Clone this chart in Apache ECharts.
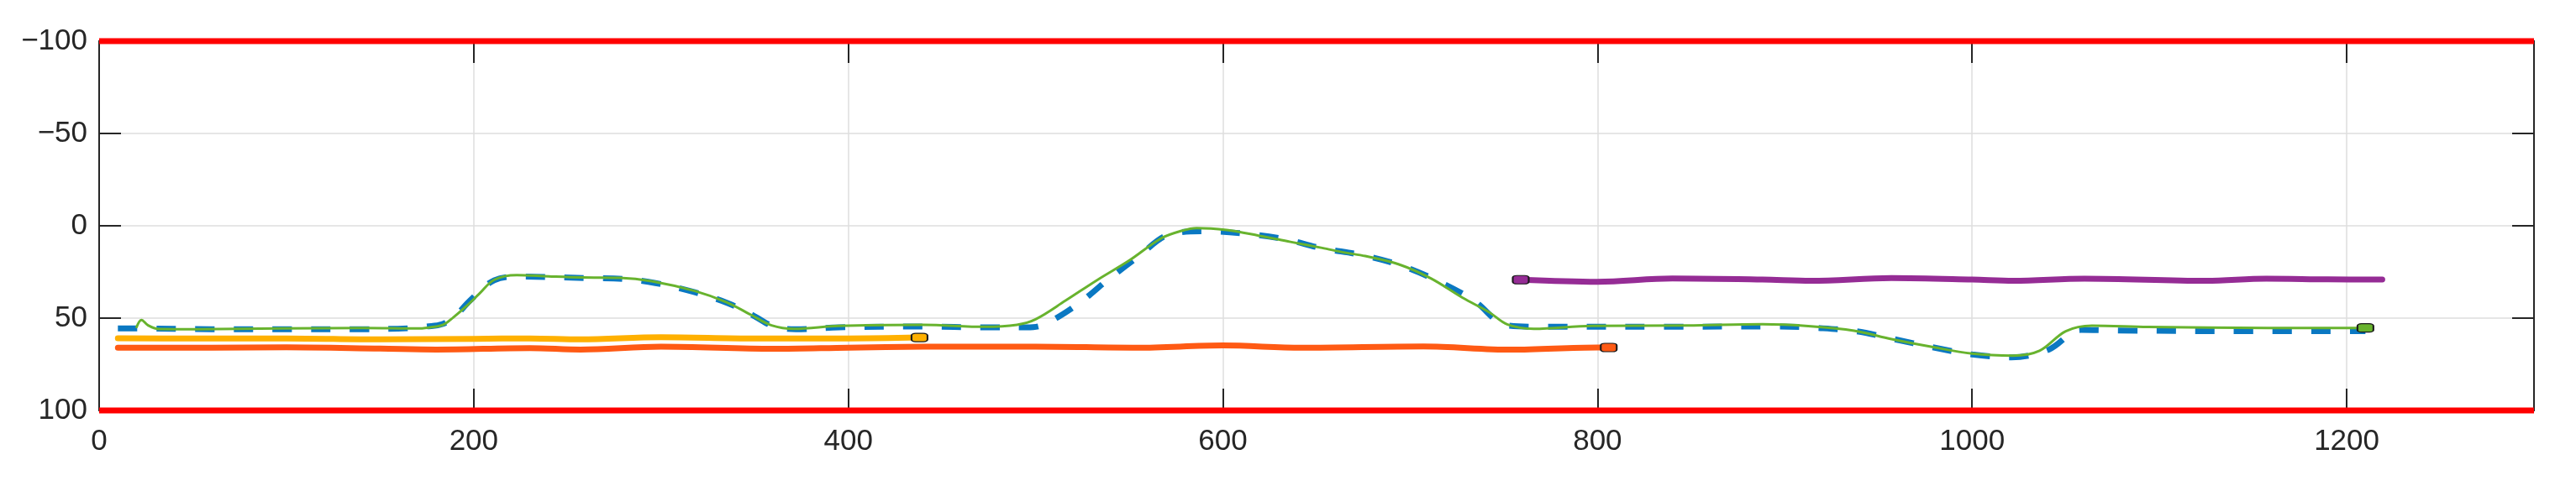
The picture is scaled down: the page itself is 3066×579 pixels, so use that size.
<!DOCTYPE html>
<html>
<head>
<meta charset="utf-8">
<script src="https://cdn.jsdelivr.net/npm/echarts@6/dist/echarts.min.js"></script>
<style>
  html, body { margin: 0; padding: 0; background: #fff; }
  #chart { width: 3066px; height: 579px; }
</style>
</head>
<body>
<div id="chart"></div>
<script>
// values (y axis is drawn reversed: -100 on top)
var greenX = [20, 22.6, 26, 32, 52, 97, 141, 171, 180, 184, 189, 196, 203, 211, 223, 240, 258, 278, 295, 318, 335, 348, 359, 371, 395, 440, 473, 490, 500, 516, 533, 550, 567, 578, 586, 602, 619, 636, 653, 665, 676, 694, 711, 728, 742, 752, 766, 797, 848, 888, 914, 937, 957, 978, 1000, 1022, 1036, 1050, 1064, 1094, 1158, 1210];
var greenY = [54.8, 51, 53.8, 55.9, 56, 55.6, 55.3, 55.6, 54.5, 53.5, 49.7, 43.6, 36.8, 29.2, 26.7, 27.4, 28, 28.2, 30, 35.3, 41.4, 48.2, 53.9, 55.8, 54.2, 53.6, 54.7, 53.6, 50.6, 40.5, 29.3, 18.8, 6.8, 2.7, 1.2, 2.3, 5.3, 8.7, 12, 14.5, 16.4, 20.9, 28.5, 39, 46.7, 53.5, 55.8, 54.2, 54, 53.3, 54.4, 56.8, 61.4, 65.5, 69.2, 70.3, 67.7, 57.1, 54.1, 54.8, 55.3, 55.3];

var blueX = [10, 20, 60, 100, 140, 165, 175, 183, 190, 198, 211, 225, 260, 280, 297, 318, 336, 350, 360, 372, 395, 440, 473, 495, 504, 522, 538, 554, 572, 590, 611, 633, 652, 675, 695, 716, 734, 752, 772, 835, 897, 917, 938, 958, 979, 1000, 1021, 1041, 1058, 1078, 1150, 1210];
var blueY = [55.6, 55.6, 56, 56, 56, 55.5, 54.5, 53.3, 49, 40.5, 29.5, 27.5, 28.3, 28.8, 31, 36, 42, 49, 54.5, 56, 55, 54.5, 55, 55, 53.6, 42.8, 29.7, 17.3, 4.5, 3, 4.2, 7.2, 12, 16, 21.5, 30.5, 40.5, 54, 54.7, 54.7, 54.5, 55.3, 57.1, 61.3, 65.8, 69.7, 71.2, 67, 56.4, 56.7, 57.1, 57];

var yellowX = [10, 50, 100, 150, 200, 230, 257, 300, 350, 400, 438];
var yellowY = [60.9, 61, 61, 61.5, 61.2, 61, 61.5, 60.3, 61, 61, 60.5];

var orangeX = [10, 60, 100, 150, 180, 230, 257, 300, 360, 400, 440, 500, 554, 600, 642, 707, 754, 800, 806];
var orangeY = [66, 66, 65.8, 66.5, 67, 66.2, 67, 65.5, 66.6, 66, 65.5, 65.4, 66, 64.8, 66, 65.3, 67.1, 65.9, 65.9];

var purpleX = [759, 800, 840, 888, 914, 957, 1000, 1022, 1060, 1125, 1157, 1190, 1219];
var purpleY = [29.2, 30.3, 28.5, 29.1, 29.8, 28.3, 29.1, 29.8, 28.6, 29.8, 28.6, 29, 29.1];

var boundX = [0, 1300];
var upperY = [-100, -100];
var lowerY = [100, 100];

var yTickLabels = { '-100': '\u2212100', '-50': '\u221250', '0': '0', '50': '50', '100': '100' };

var chart = echarts.init(document.getElementById('chart'));

// zip x/y lists, putting the little end marker on one point
function pairs(xs, ys, markAt) {
  return xs.map(function (x, i) {
    if (i === markAt) {
      return { value: [x, ys[i]], symbol: 'roundRect', symbolSize: [19, 10] };
    }
    return [x, ys[i]];
  });
}

function trace(name, xs, ys, color, width, markAt, extra) {
  var s = {
    type: 'line',
    name: name,
    data: pairs(xs, ys, markAt),
    symbol: 'none',
    showSymbol: true,
    smooth: 0.35,
    lineStyle: { color: color, width: width, cap: 'round', join: 'round' },
    itemStyle: { color: color, borderColor: '#1a1a1a', borderWidth: 1.5 },
    z: 3
  };
  return Object.assign(s, extra || {});
}

var axisColor = '#262626';
var labelFont = { fontSize: 35, color: axisColor, fontFamily: 'Liberation Sans, Arial, sans-serif' };

function boxAxis(pos, extra) {
  return Object.assign({
    type: 'value',
    position: pos,
    axisLine: { show: true, onZero: false, lineStyle: { color: axisColor, width: 2 } },
    axisTick: { show: true, inside: true, length: 26, lineStyle: { color: axisColor, width: 2 } },
    splitLine: { show: false },
    axisLabel: { show: false }
  }, extra);
}

chart.setOption({
  animation: false,
  grid: { left: 118, right: 50, top: 49, bottom: 90 },
  xAxis: [
    boxAxis('bottom', {
      min: 0, max: 1300, interval: 200,
      splitLine: { show: true, lineStyle: { color: '#dedede', width: 1.5 } },
      axisLabel: Object.assign({ margin: 20, formatter: function (v) { return v > 1200 ? '' : String(v); } }, labelFont)
    }),
    boxAxis('top', { min: 0, max: 1300, interval: 200 })
  ],
  yAxis: [
    boxAxis('left', {
      min: -100, max: 100, interval: 50, inverse: true,
      splitLine: { show: true, lineStyle: { color: '#dedede', width: 1.5 } },
      axisLabel: Object.assign({ margin: 14, formatter: function (v) { return yTickLabels[String(v)]; } }, labelFont)
    }),
    boxAxis('right', { min: -100, max: 100, interval: 50, inverse: true })
  ],
  series: [
    trace('orange', orangeX, orangeY, '#FF5A14', 7, orangeX.length - 1),
    trace('yellow', yellowX, yellowY, '#FFB000', 7, yellowX.length - 1),
    trace('purple', purpleX, purpleY, '#952C95', 7, 0),
    trace('blue', blueX, blueY, '#0A78C2', 6, -1, { lineStyle: { color: '#0A78C2', width: 7, type: [23, 23], cap: 'butt' } }),
    trace('green', greenX, greenY, '#68B32E', 3, greenX.length - 1, { z: 4 }),
    {
      type: 'line', name: 'upper', data: boundX.map(function (x, i) { return [x, upperY[i]]; }),
      symbol: 'none', clip: false, lineStyle: { color: '#FF0000', width: 7 }, z: 5
    },
    {
      type: 'line', name: 'lower', data: boundX.map(function (x, i) { return [x, lowerY[i]]; }),
      symbol: 'none', clip: false, lineStyle: { color: '#FF0000', width: 7 }, z: 5
    }
  ]
});
</script>
</body>
</html>
